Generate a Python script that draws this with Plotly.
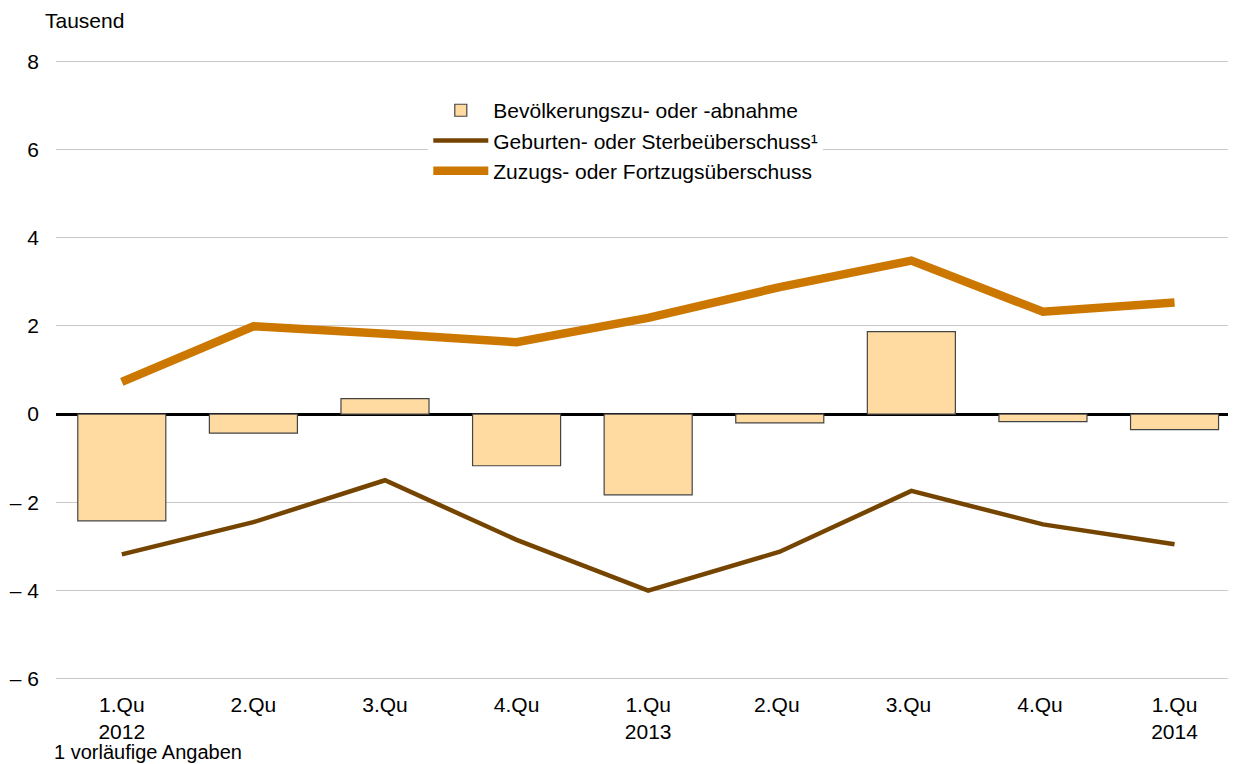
import plotly.graph_objects as go

categories = ["1.Qu<br>2012", "2.Qu", "3.Qu", "4.Qu", "1.Qu<br>2013", "2.Qu ", "3.Qu ", "4.Qu ", "1.Qu<br>2014"]
bevoelkerung = [-2.42, -0.43, 0.35, -1.17, -1.83, -0.20, 1.87, -0.17, -0.35]
geburten = [-3.18, -2.45, -1.50, -2.85, -4.00, -3.12, -1.74, -2.50, -2.95]
zuzug = [0.73, 1.99, 1.82, 1.63, 2.18, 2.88, 3.48, 2.32, 2.53]
ytick_vals = [8, 6, 4, 2, 0, -2, -4, -6]
ytick_text = ["8", "6", "4", "2", "0", "– 2", "– 4", "– 6"]

FONT = "Liberation Sans, Arial, sans-serif"

fig = go.Figure()
fig.add_trace(go.Bar(
    x=categories, y=bevoelkerung, name="Bevölkerungszu- oder -abnahme",
    marker=dict(color="#FFDBA2", line=dict(color="#444444", width=1.2)),
))
fig.add_trace(go.Scatter(
    x=categories, y=geburten, name="Geburten- oder Sterbeüberschuss¹",
    mode="lines", line=dict(color="#754500", width=4.5),
))
fig.add_trace(go.Scatter(
    x=categories, y=zuzug, name="Zuzugs- oder Fortzugsüberschuss",
    mode="lines", line=dict(color="#CC7800", width=8.5),
))

fig.update_layout(
    width=1228, height=756,
    margin=dict(l=48, r=0, t=51, b=83),
    plot_bgcolor="white", paper_bgcolor="white",
    font=dict(family=FONT, size=21, color="black"),
    bargap=0.331,
    showlegend=True,
    legend=dict(
        x=0.3155, y=0.950, xanchor="left", yanchor="top",
        bgcolor="white", borderwidth=0,
        font=dict(size=21), itemwidth=55, tracegroupgap=0,
    ),
    xaxis=dict(
        range=[-0.5, 8.467],
        showgrid=False, showline=False, ticks="",
        tickfont=dict(size=21), automargin=False, ticklabelstandoff=9,
    ),
    yaxis=dict(
        range=[-6.05, 8.05], tickvals=ytick_vals, ticktext=ytick_text,
        showgrid=True, gridcolor="#C8C8C8", gridwidth=1.2,
        zeroline=True, zerolinecolor="black", zerolinewidth=3,
        showline=False, ticks="", ticklabelstandoff=16,
        tickfont=dict(size=21), automargin=False,
    ),
    annotations=[
        dict(text="Tausend", xref="paper", yref="paper", x=0, y=1.0,
             xshift=-13, yshift=39, xanchor="left", yanchor="middle",
             showarrow=False, font=dict(size=21)),
        dict(text="1 vorläufige Angaben", xref="paper", yref="paper", x=0,
             y=0, xshift=-4, yshift=-71, xanchor="left", yanchor="middle",
             showarrow=False, font=dict(size=20)),
    ],
)

fig.write_html("out.html")
